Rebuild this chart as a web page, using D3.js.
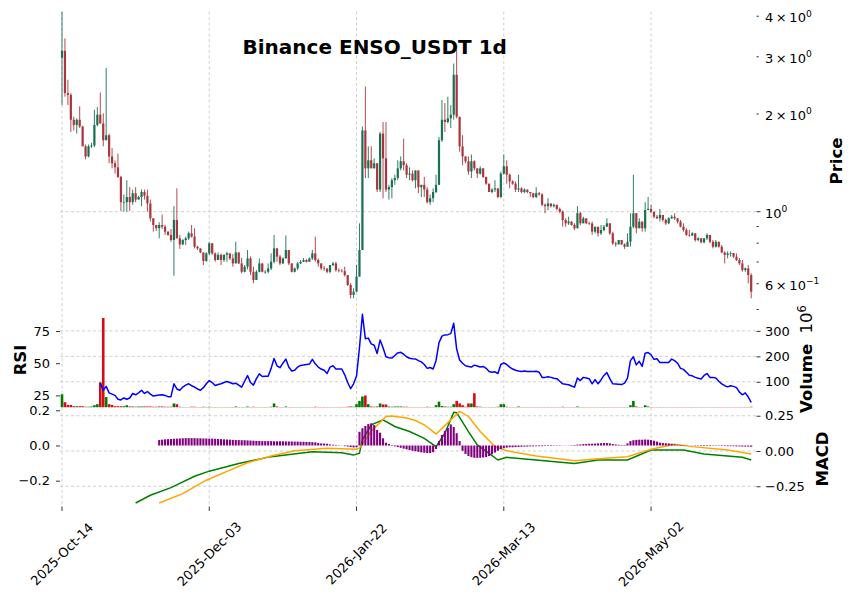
<!DOCTYPE html>
<html>
<head>
<meta charset="utf-8">
<script src="https://cdn.jsdelivr.net/npm/d3@7"></script>
<style>
  html, body { margin: 0; padding: 0; background: #fff; }
  svg { display: block; font-family: "DejaVu Sans", sans-serif; }
</style>
</head>
<body>
<svg width="855" height="601"></svg>
<script>
var title = "Binance ENSO_USDT 1d";
var startDate = "2025-10-14";
var firstOpen = 2.98;

// daily closes, highs, lows (USDT)
var closes = [
  3.13, 2.32, 2.29, 1.92, 1.85, 1.92, 1.83, 1.59, 1.48, 1.59,
  1.60, 1.85, 1.99, 1.87, 1.66, 1.72, 1.48, 1.41, 1.37, 1.28,
  1.07, 1.07, 1.11, 1.07, 1.14, 1.09, 1.11, 1.15, 1.12, 1.06,
  0.954, 0.910, 0.889, 0.910, 0.899, 0.868, 0.848, 0.818, 0.943, 0.828,
  0.793, 0.818, 0.828, 0.858, 0.838, 0.780, 0.771, 0.749, 0.705, 0.744,
  0.799, 0.744, 0.710, 0.736, 0.710, 0.736, 0.744, 0.718, 0.693, 0.749,
  0.693, 0.653, 0.677, 0.718, 0.653, 0.616, 0.653, 0.693, 0.653, 0.653,
  0.669, 0.701, 0.771, 0.727, 0.693, 0.718, 0.762, 0.693, 0.653, 0.669,
  0.693, 0.701, 0.710, 0.701, 0.718, 0.744, 0.710, 0.693, 0.669, 0.668,
  0.653, 0.685, 0.693, 0.661, 0.658, 0.656, 0.638, 0.595, 0.554, 0.567,
  0.631, 0.762, 1.78, 1.36, 1.44, 1.36, 1.41, 1.17, 1.74, 1.46,
  1.17, 1.19, 1.25, 1.27, 1.36, 1.43, 1.39, 1.30, 1.31, 1.25,
  1.34, 1.19, 1.21, 1.17, 1.07, 1.10, 1.15, 1.21, 1.66, 1.92,
  1.89, 1.94, 1.99, 2.64, 1.96, 1.59, 1.48, 1.43, 1.33, 1.43,
  1.36, 1.31, 1.36, 1.28, 1.22, 1.15, 1.17, 1.18, 1.11, 1.31,
  1.38, 1.30, 1.24, 1.22, 1.17, 1.18, 1.15, 1.17, 1.15, 1.14,
  1.11, 1.14, 1.13, 1.05, 1.04, 1.06, 1.04, 1.05, 1.02, 1.00,
  0.943, 0.921, 0.932, 0.910, 0.889, 0.990, 0.921, 0.954, 0.921, 0.920,
  0.868, 0.899, 0.858, 0.878, 0.899, 0.921, 0.858, 0.799, 0.793, 0.818,
  0.793, 0.780, 0.808, 0.899, 0.989, 0.889, 0.932, 0.889, 1.012, 1.02,
  1.00, 0.965, 0.954, 0.977, 0.943, 0.921, 0.954, 0.965, 0.954, 0.932,
  0.899, 0.878, 0.848, 0.844, 0.858, 0.818, 0.828, 0.805, 0.828, 0.848,
  0.808, 0.780, 0.808, 0.780, 0.749, 0.736, 0.744, 0.746, 0.727, 0.710,
  0.693, 0.661, 0.669, 0.638, 0.567
];
var highs = [
  4.13, 3.42, 2.55, 2.32, 1.96, 1.94, 2.11, 1.84, 1.61, 1.61,
  1.63, 2.06, 2.10, 2.33, 2.01, 2.77, 1.74, 1.57, 1.44, 1.51,
  1.29, 1.13, 1.25, 1.19, 1.17, 1.19, 1.12, 1.17, 1.17, 1.17,
  1.09, 0.955, 0.91, 0.928, 0.98, 0.91, 0.87, 0.884, 1.04, 1.18,
  0.848, 0.823, 0.838, 0.868, 0.91, 0.889, 0.785, 0.771, 0.749, 0.75,
  0.808, 0.80, 0.749, 0.749, 0.744, 0.74, 0.753, 0.744, 0.74, 0.808,
  0.73, 0.72, 0.685, 0.762, 0.727, 0.677, 0.661, 0.718, 0.693, 0.661,
  0.693, 0.744, 0.848, 0.771, 0.736, 0.723, 0.845, 0.762, 0.693, 0.673,
  0.701, 0.71, 0.72, 0.714, 0.723, 0.762, 0.838, 0.718, 0.693, 0.68,
  0.669, 0.685, 0.70, 0.701, 0.669, 0.665, 0.677, 0.638, 0.602, 0.581,
  0.685, 0.921, 1.83, 2.43, 1.59, 1.59, 1.46, 1.39, 1.76, 1.89,
  1.89, 1.21, 1.27, 1.30, 1.44, 1.48, 1.68, 1.41, 1.37, 1.34,
  1.34, 1.28, 1.21, 1.28, 1.19, 1.13, 1.18, 1.30, 1.70, 2.21,
  2.16, 2.26, 2.13, 2.86, 3.15, 1.96, 1.72, 1.48, 1.48, 1.50,
  1.44, 1.36, 1.38, 1.36, 1.28, 1.22, 1.18, 1.25, 1.18, 1.33,
  1.50, 1.44, 1.31, 1.25, 1.24, 1.30, 1.19, 1.18, 1.17, 1.15,
  1.14, 1.19, 1.15, 1.14, 1.06, 1.10, 1.06, 1.06, 1.05, 1.03,
  1.01, 0.954, 0.965, 0.935, 0.921, 1.04, 1.00, 0.965, 0.95, 0.932,
  0.932, 0.899, 0.899, 0.91, 0.91, 0.954, 0.921, 0.868, 0.808, 0.818,
  0.808, 0.799, 0.858, 0.989, 1.30, 0.989, 0.955, 0.932, 1.07, 1.11,
  1.05, 1.00, 0.977, 1.02, 0.977, 0.954, 0.962, 0.977, 0.989, 0.955,
  0.943, 0.921, 0.89, 0.878, 0.865, 0.858, 0.835, 0.83, 0.828, 0.858,
  0.848, 0.818, 0.818, 0.795, 0.79, 0.755, 0.755, 0.755, 0.746, 0.744,
  0.72, 0.71, 0.673, 0.685, 0.646
];
var lows = [
  2.13, 2.26, 2.13, 1.76, 1.78, 1.74, 1.81, 1.59, 1.45, 1.47,
  1.57, 1.58, 1.83, 1.87, 1.59, 1.66, 1.41, 1.36, 1.31, 1.27,
  1.005, 1.00, 1.00, 1.005, 1.05, 1.07, 1.09, 1.04, 1.09, 1.00,
  0.932, 0.868, 0.872, 0.828, 0.884, 0.848, 0.843, 0.808, 0.635, 0.828,
  0.768, 0.79, 0.79, 0.818, 0.832, 0.771, 0.762, 0.745, 0.685, 0.701,
  0.736, 0.736, 0.701, 0.714, 0.685, 0.70, 0.701, 0.710, 0.677, 0.701,
  0.69, 0.646, 0.65, 0.664, 0.638, 0.602, 0.616, 0.65, 0.65, 0.644,
  0.646, 0.661, 0.693, 0.701, 0.685, 0.69, 0.718, 0.685, 0.65, 0.65,
  0.661, 0.69, 0.70, 0.697, 0.70, 0.71, 0.701, 0.677, 0.661, 0.657,
  0.646, 0.646, 0.68, 0.653, 0.65, 0.65, 0.631, 0.59, 0.541, 0.541,
  0.567, 0.631, 0.762, 1.27, 1.27, 1.36, 1.39, 1.15, 1.15, 1.10,
  1.15, 1.09, 1.10, 1.21, 1.25, 1.34, 1.34, 1.27, 1.25, 1.24,
  1.18, 1.14, 1.11, 1.11, 1.06, 1.05, 1.07, 1.14, 1.21, 1.64,
  1.76, 1.87, 1.81, 1.92, 1.94, 1.53, 1.39, 1.41, 1.30, 1.27,
  1.34, 1.27, 1.30, 1.27, 1.21, 1.15, 1.14, 1.15, 1.10, 1.10,
  1.30, 1.22, 1.18, 1.21, 1.15, 1.15, 1.14, 1.14, 1.14, 1.11,
  1.10, 1.10, 1.12, 1.04, 0.989, 1.01, 1.03, 1.03, 1.01, 0.99,
  0.899, 0.899, 0.91, 0.905, 0.878, 0.889, 0.91, 0.921, 0.915, 0.91,
  0.848, 0.858, 0.838, 0.848, 0.87, 0.899, 0.848, 0.790, 0.78, 0.799,
  0.79, 0.768, 0.78, 0.78, 0.889, 0.858, 0.89, 0.868, 0.868, 1.01,
  0.989, 0.954, 0.95, 0.932, 0.932, 0.91, 0.915, 0.95, 0.943, 0.92,
  0.895, 0.868, 0.843, 0.838, 0.845, 0.808, 0.81, 0.80, 0.799, 0.818,
  0.799, 0.771, 0.775, 0.775, 0.744, 0.693, 0.718, 0.727, 0.72, 0.705,
  0.685, 0.653, 0.653, 0.602, 0.541
];

// volume, millions
var volumes = [
  51, 20, 9, 9, 4, 4, 4, 4, 2, 2,
  3, 8, 12, 98, 351, 40, 12, 9, 4, 4,
  4, 4, 8, 3, 3, 2, 3, 3, 3, 3,
  3, 2, 2, 3, 3, 2, 2, 2, 15, 12,
  2, 1, 1, 1, 2, 2, 1, 1, 2, 1,
  2, 1, 1, 1, 1, 1, 1, 1, 1, 3,
  1, 1, 1, 3, 1, 2, 1, 1, 1, 1,
  1, 2, 15, 3, 1, 1, 3, 1, 1, 1,
  1, 1, 1, 1, 1, 1, 2, 1, 1, 1,
  1, 1, 1, 1, 1, 1, 1, 2, 3, 2,
  12, 25, 42, 46, 12, 3, 2, 3, 15, 11,
  11, 3, 2, 3, 3, 3, 2, 2, 1, 1,
  1, 1, 1, 1, 2, 1, 1, 8, 22, 5,
  3, 2, 2, 12, 25, 15, 8, 2, 15, 15,
  55, 3, 2, 1, 1, 1, 1, 1, 2, 12,
  12, 2, 1, 1, 1, 3, 1, 1, 1, 1,
  1, 1, 1, 1, 1, 1, 1, 1, 1, 1,
  2, 1, 1, 1, 1, 3, 1, 1, 1, 1,
  1, 1, 1, 1, 1, 1, 1, 1, 1, 1,
  1, 1, 1, 8, 25, 3, 1, 1, 8, 3,
  1, 1, 1, 1, 1, 1, 1, 1, 1, 1,
  1, 1, 1, 1, 1, 1, 1, 1, 1, 1,
  1, 1, 1, 1, 1, 1, 1, 1, 1, 1,
  1, 1, 1, 1, 2
];

// RSI from day 13
var rsiStart = 13;
var rsi = [
  34.5, 29, 32, 27, 26, 25, 22, 21.5, 23, 22,
  23, 26.5, 25.5, 27, 29, 26.5, 28, 26, 24.5, 25,
  25.3, 25.5, 25, 24, 24, 34, 30, 29, 31.5, 33,
  34, 32.5, 31.5, 30, 29, 31, 34, 36.5, 35, 32.7,
  33.5, 34, 35, 35.8, 35, 34, 34.5, 33, 31.4, 36,
  40.4, 35, 33, 38, 41.7, 39.7, 39.8, 39.9, 46, 53.7,
  48, 46.5, 50, 53.2, 47, 44, 44.5, 47, 48.3, 48.6,
  49, 49.3, 53, 49.5, 47, 45.5, 44.5, 42, 47, 48,
  45.5, 45.5, 45.5, 41, 35, 30.2, 34, 40, 62, 88,
  69, 69.5, 65, 64, 57.6, 68, 62, 55, 54.3, 54,
  56, 58, 58.5, 57, 55, 53.8, 53.5, 53.3, 52, 51,
  49, 46, 46.7, 45.5, 52, 66, 71, 72, 72.2, 73,
  81, 61, 52.5, 50, 48, 47.5, 47, 48.5, 47.8, 47,
  47.5, 46, 43.5, 43, 43.3, 42, 49, 50.3, 49, 47,
  45.5, 44.5, 44, 43.6, 44, 43.5, 43.6, 43.6, 43.7, 43,
  39, 39, 39.5, 39, 38.3, 38, 36, 34, 33.6, 33.3,
  32.3, 31.4, 38.5, 36.5, 39, 38.5, 38, 34, 37.3, 34,
  37, 40.5, 42.7, 38, 34, 33.8, 33.6, 33.4, 34.5, 38.5,
  52, 55, 48.7, 51.5, 47.5, 57.8, 58.3, 56.5, 53, 53.5,
  50.6, 50.6, 50.5, 50.5, 53.2, 52, 50, 46, 45.2, 43,
  40.7, 40.2, 39, 38.3, 37.8, 40.5, 42, 39, 39, 38.5,
  36, 34, 32.5, 31.6, 32.5, 32, 31, 27.5, 25.5, 27,
  23.8, 19.5
];

// MACD histogram from day 33
var histStart = 33;
var hist = [
  0.031, 0.033, 0.035, 0.036, 0.037, 0.038, 0.039, 0.040, 0.041, 0.042,
  0.042, 0.042, 0.042, 0.041, 0.041, 0.040, 0.040, 0.039, 0.039, 0.038,
  0.037, 0.036, 0.035, 0.034, 0.033, 0.032, 0.031, 0.031, 0.030, 0.030,
  0.029, 0.028, 0.027, 0.026, 0.026, 0.025, 0.025, 0.025, 0.025, 0.024,
  0.024, 0.024, 0.024, 0.023, 0.023, 0.023, 0.022, 0.022, 0.021, 0.021,
  0.020, 0.020, 0.019, 0.018, 0.014, 0.012, 0.011, 0.010, 0.006, 0.004,
  0.003, 0.002, 0.001, -0.004, -0.006, -0.009, -0.011, -0.010, 0.078, 0.098,
  0.111, 0.122, 0.126, 0.116, 0.088, 0.073, 0.041, 0.016, 0.009, 0.003,
  -0.005, -0.009, -0.013, -0.018, -0.022, -0.026, -0.030, -0.033, -0.036, -0.039,
  -0.041, -0.043, -0.043, -0.038, -0.020, 0.026, 0.060, 0.083, 0.100, 0.120,
  0.105, 0.070, 0.025, -0.030, -0.048, -0.060, -0.066, -0.070, -0.070, -0.070,
  -0.068, -0.066, -0.060, -0.050, -0.040, -0.030, -0.020, -0.015, -0.012, -0.010,
  -0.010, -0.009, -0.008, -0.007, -0.006, -0.006, -0.005, -0.005, -0.004, -0.004,
  -0.004, -0.003, -0.003, -0.003, -0.002, -0.002, -0.002, -0.001, -0.001, 0.001,
  0.002, 0.003, 0.005, 0.006, 0.008, 0.009, 0.010, 0.010, 0.011, 0.012,
  0.013, 0.014, 0.014, 0.012, 0.008, 0.006, 0.004, 0.003, 0.003, 0.012,
  0.025, 0.030, 0.032, 0.033, 0.033, 0.034, 0.033, 0.031, 0.027, 0.022,
  0.016, 0.014, 0.013, 0.012, 0.010, 0.006, 0.004, 0.003, 0.002, 0.001,
  0.000, -0.001, -0.002, -0.002, -0.003, -0.003, -0.003, -0.003, -0.002, -0.002,
  -0.002, -0.003, -0.003, -0.004, -0.004, -0.004, -0.005, -0.005, -0.006, -0.006,
  -0.006, -0.007
];

// MACD and signal lines, read at these days
var macdDays = [25, 30, 37, 45, 50, 60, 71, 85, 95, 99, 101, 102, 105, 109, 113, 118, 123, 127, 130, 133, 134, 138, 141, 145, 148, 151, 161, 174, 182, 192, 200, 211, 218, 231, 234];
var macdVals = [-0.369, -0.314, -0.26, -0.179, -0.143, -0.088, -0.04, -0.005, -0.012, -0.029, -0.015, 0.079, 0.186, 0.221, 0.174, 0.138, 0.09, 0.031, 0.126, 0.274, 0.272, 0.138, 0.043, -0.017, -0.064, -0.045, -0.064, -0.088, -0.064, -0.064, 0.007, 0.007, -0.021, -0.045, -0.064];
var signalDays = [33, 41, 49, 57, 63, 71, 79, 90, 100, 101, 105, 110, 112, 117, 120, 123, 127, 132, 135, 138, 142, 147, 151, 161, 174, 182, 192, 200, 208, 214, 226, 234];
var signalVals = [-0.369, -0.302, -0.207, -0.136, -0.083, -0.036, 0.002, 0.019, 0.012, 0.02, 0.14, 0.245, 0.248, 0.234, 0.216, 0.186, 0.121, 0.221, 0.281, 0.245, 0.138, 0.031, 0.002, -0.036, -0.069, -0.055, -0.04, 0.012, 0.048, 0.031, 0.007, -0.021];

// ticks
var dateTicks = [0, 50, 100, 150, 200];
var priceTicks = [4, 3, 2, 1, 0.9, 0.8, 0.7, 0.6, 0.5];
var priceMant = ["4", "3", "2", "", null, null, null, "6", null];
var priceExp = ["0", "0", "0", "0", null, null, null, "\u22121", null];
var volTicks = [100, 200, 300];
var volLabels = ["100", "200", "300"];
var rsiTicks = [25, 50, 75];
var rsiLabels = ["25", "50", "75"];
var histTicks = [-0.2, 0, 0.2];
var histLabels = ["\u22120.2", "0.0", "0.2"];
var macdTicks = [-0.25, 0, 0.25];
var macdLabels = ["\u22120.25", "0.00", "0.25"];

var upC = "#006340", downC = "#a02128";
var volUp = "#007a00", volDown = "#d50d18";

var svg = d3.select("svg");
var left = 60, right = 756.5;
var mainTop = 11.5, mainBottom = 308.5, p1Bottom = 407.5, p2Bottom = 506.5;

var opens = closes.map(function(c, i) { return i == 0 ? firstOpen : closes[i - 1]; });
var day0 = d3.timeParse("%Y-%m-%d")(startDate);
var fmt = d3.timeFormat("%Y-%b-%d");

var x = d3.scaleLinear().domain([-0.68, 235.8]).range([left, right]);
var yPrice = d3.scaleLog().domain([0.5033, 4.137]).range([mainBottom, mainTop]);
var yVol = d3.scaleLinear().domain([-1, 388]).range([p1Bottom, mainBottom]);
var yRsi = d3.scaleLinear().domain([15.6, 92.5]).range([p1Bottom, mainBottom]);
var yMacd = d3.scaleLinear().domain([-0.3936, 0.3085]).range([p2Bottom, p1Bottom]);
var yHist = d3.scaleLinear().domain([-0.3466, 0.2159]).range([p2Bottom, p1Bottom]);

// grid
var grid = svg.append("g")
    .attr("stroke", "#c4c4c4")
    .attr("stroke-width", 0.8)
    .attr("stroke-dasharray", "3,2.5");

grid.selectAll(".vg").data(dateTicks).enter().append("line")
    .attr("x1", function(d) { return x(d); })
    .attr("x2", function(d) { return x(d); })
    .attr("y1", mainTop).attr("y2", p2Bottom);

var hLines = [yPrice(1)]
    .concat(volTicks.map(function(d) { return yVol(d); }))
    .concat(macdTicks.map(function(d) { return yMacd(d); }));
grid.selectAll(".hg").data(hLines).enter().append("line")
    .attr("x1", left).attr("x2", right)
    .attr("y1", function(d) { return d; })
    .attr("y2", function(d) { return d; });

// volume
svg.append("g").selectAll("rect")
    .data(volumes)
    .enter().append("rect")
    .attr("x", function(d, i) { return x(i) - 1.3; })
    .attr("width", 2.6)
    .attr("y", function(d) { return yVol(d); })
    .attr("height", function(d) { return yVol(0) - yVol(d); })
    .attr("fill", function(d, i) { return closes[i] >= opens[i] ? volUp : volDown; });

// RSI
var rsiLine = d3.line()
    .x(function(d, i) { return x(i + rsiStart); })
    .y(function(d) { return yRsi(d); });
svg.append("path")
    .datum(rsi)
    .attr("d", rsiLine)
    .attr("fill", "none")
    .attr("stroke", "blue")
    .attr("stroke-width", 1.5)
    .attr("stroke-linejoin", "round");

// candles
var candles = svg.append("g").selectAll("g")
    .data(closes)
    .enter().append("g")
    .attr("opacity", 0.9);

candles.append("line")
    .attr("x1", function(d, i) { return x(i); })
    .attr("x2", function(d, i) { return x(i); })
    .attr("y1", function(d, i) { return yPrice(Math.max(highs[i], opens[i], d)); })
    .attr("y2", function(d, i) { return yPrice(Math.min(lows[i], opens[i], d)); })
    .attr("stroke", function(d, i) { return d >= opens[i] ? upC : downC; })
    .attr("stroke-width", 0.9);

candles.append("rect")
    .attr("x", function(d, i) { return x(i) - 1.1; })
    .attr("width", 2.2)
    .attr("y", function(d, i) { return yPrice(Math.max(opens[i], d)); })
    .attr("height", function(d, i) { return Math.max(0.6, yPrice(Math.min(opens[i], d)) - yPrice(Math.max(opens[i], d))); })
    .attr("fill", function(d, i) { return d >= opens[i] ? upC : downC; });

// MACD lines
var macdLine = d3.line()
    .x(function(d) { return x(d[0]); })
    .y(function(d) { return yMacd(d[1]); });
svg.append("path")
    .datum(d3.zip(macdDays, macdVals))
    .attr("d", macdLine)
    .attr("fill", "none")
    .attr("stroke", "green")
    .attr("stroke-width", 1.5);
svg.append("path")
    .datum(d3.zip(signalDays, signalVals))
    .attr("d", macdLine)
    .attr("fill", "none")
    .attr("stroke", "orange")
    .attr("stroke-width", 1.5);

// histogram
svg.append("g").selectAll("rect")
    .data(hist)
    .enter().append("rect")
    .attr("x", function(d, i) { return x(i + histStart) - 1.05; })
    .attr("width", 2.1)
    .attr("y", function(d) { return Math.min(yHist(d), yHist(0)); })
    .attr("height", function(d) { return Math.abs(yHist(d) - yHist(0)); })
    .attr("fill", "purple");

// axes
function styleAxis(g) {
    g.select(".domain").remove();
    g.selectAll("line").attr("stroke", "#000").attr("stroke-width", 0.8);
    g.selectAll("text").attr("fill", "#000").attr("font-size", 13).attr("font-family", "DejaVu Sans");
    g.attr("font-size", 13).attr("font-family", "DejaVu Sans");
}

svg.append("g")
    .attr("transform", "translate(" + right + ",0)")
    .call(d3.axisRight(yVol).tickValues(volTicks).tickSize(4).tickPadding(4.5)
        .tickFormat(function(d, i) { return volLabels[i]; }))
    .call(styleAxis);

svg.append("g")
    .attr("transform", "translate(" + right + ",0)")
    .call(d3.axisRight(yMacd).tickValues(macdTicks).tickSize(4).tickPadding(4.5)
        .tickFormat(function(d, i) { return macdLabels[i]; }))
    .call(styleAxis);

svg.append("g")
    .attr("transform", "translate(" + left + ",0)")
    .call(d3.axisLeft(yRsi).tickValues(rsiTicks).tickSize(4).tickPadding(6)
        .tickFormat(function(d, i) { return rsiLabels[i]; }))
    .call(styleAxis);

svg.append("g")
    .attr("transform", "translate(" + left + ",0)")
    .call(d3.axisLeft(yHist).tickValues(histTicks).tickSize(4).tickPadding(6)
        .tickFormat(function(d, i) { return histLabels[i]; }))
    .call(styleAxis);

// log price axis, major tick at 1, minor ticks elsewhere
var pAxis = svg.append("g");
pAxis.selectAll("line").data(priceTicks).enter().append("line")
    .attr("x1", right)
    .attr("x2", function(d) { return d == 1 ? right + 4 : right + 2.3; })
    .attr("y1", function(d) { return yPrice(d); })
    .attr("y2", function(d) { return yPrice(d); })
    .attr("stroke", "#000").attr("stroke-width", 0.8);

priceTicks.forEach(function(v, i) {
    if (priceExp[i] === null) return;
    var t = pAxis.append("text")
        .attr("x", right + 8.5)
        .attr("y", yPrice(v) + 6)
        .attr("font-size", 13)
        .attr("fill", "#000");
    t.append("tspan").text(priceMant[i] ? priceMant[i] + "\u2009\u00d7\u200910" : "10");
    t.append("tspan").attr("font-size", 9.1).attr("dy", -5.5).text(priceExp[i]);
});

// date axis
var xAxis = svg.append("g");
xAxis.selectAll("line").data(dateTicks).enter().append("line")
    .attr("x1", function(d) { return x(d); })
    .attr("x2", function(d) { return x(d); })
    .attr("y1", p2Bottom).attr("y2", p2Bottom + 4.5)
    .attr("stroke", "#000").attr("stroke-width", 0.8);
xAxis.selectAll("text").data(dateTicks).enter().append("text")
    .attr("transform", function(d) { return "translate(" + x(d) + ",554) rotate(-45)"; })
    .attr("text-anchor", "middle")
    .attr("dy", "0.35em")
    .attr("font-size", 13)
    .attr("fill", "#000")
    .text(function(d) { return fmt(d3.timeDay.offset(day0, d)); });

// labels
svg.append("text")
    .attr("x", 374.7).attr("y", 53.5)
    .attr("text-anchor", "middle")
    .attr("font-size", 20)
    .attr("font-weight", "bold")
    .text(title);

function yLabel(px, py, txt) {
    return svg.append("text")
        .attr("transform", "translate(" + px + "," + py + ") rotate(-90)")
        .attr("text-anchor", "middle")
        .attr("font-size", 16.5)
        .attr("font-weight", "bold")
        .text(txt);
}
yLabel(842, 161, "Price");
yLabel(828, 459, "MACD");
yLabel(26, 360, "RSI");

var vl = svg.append("text")
    .attr("transform", "translate(812,359) rotate(-90)")
    .attr("text-anchor", "middle")
    .attr("font-size", 16.5);
vl.append("tspan").attr("font-weight", "bold").text("Volume");
vl.append("tspan").text("\u00a0\u00a010");
vl.append("tspan").attr("font-size", 11.5).attr("dy", -6.5).text("6");
</script>
</body>
</html>
